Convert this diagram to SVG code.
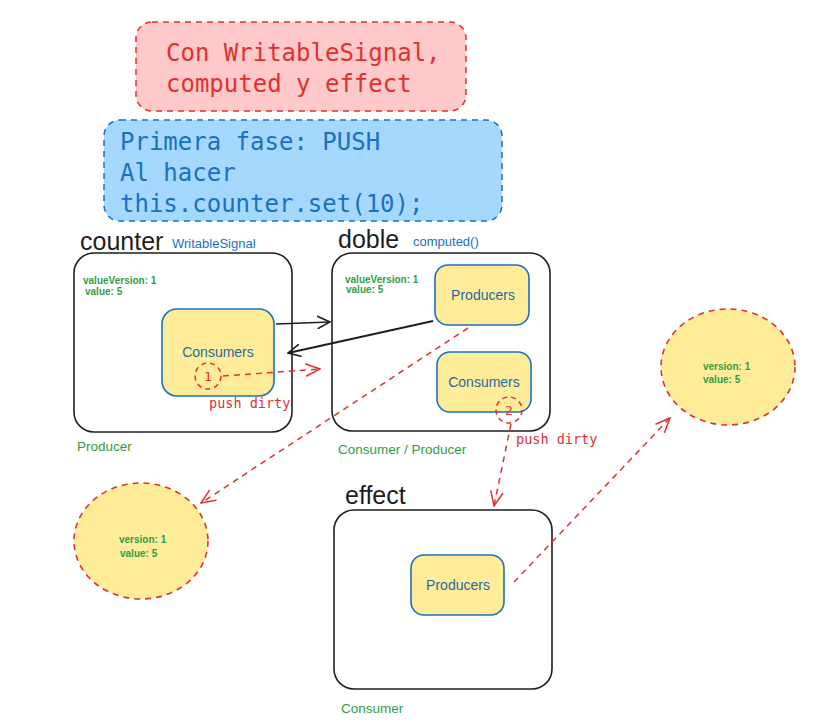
<svg xmlns="http://www.w3.org/2000/svg" width="813" height="727" viewBox="0 0 813 727">
<defs>
<marker id="ab" viewBox="0 0 14 14" refX="13" refY="7" markerWidth="14" markerHeight="14" markerUnits="userSpaceOnUse" orient="auto">
<path d="M1 1 L13 7 L1 13" fill="none" stroke="#1e1e1e" stroke-width="1.6" stroke-linecap="round"/>
</marker>
<marker id="ar" viewBox="0 0 16 16" refX="15" refY="8" markerWidth="16" markerHeight="16" markerUnits="userSpaceOnUse" orient="auto">
<path d="M1 2 L15 8 L1 14" fill="none" stroke="#e03131" stroke-width="1.5" stroke-linecap="round"/>
</marker>
</defs>
<style>
.big{font-family:"Liberation Sans",Arial,sans-serif;font-size:25px;fill:#1e1e1e}
.type{font-family:"Liberation Sans",Arial,sans-serif;font-size:13px;fill:#1971c2}
.green{font-family:"Liberation Sans",Arial,sans-serif;font-size:13.5px;fill:#2f9e44}
.small{font-family:"Liberation Sans",Arial,sans-serif;font-size:10px;font-weight:bold;fill:#2f9e44}
.mono{font-family:"DejaVu Sans Mono","Liberation Mono",monospace}
.outer{fill:#ffffff;stroke:#1e1e1e;stroke-width:1.6}
.inner{fill:#ffec99;stroke:#1971c2;stroke-width:1.6}
.itxt{font-family:"Liberation Sans",Arial,sans-serif;font-size:14px;fill:#1f6aa8;text-anchor:middle}
.dash{fill:none;stroke:#e03131;stroke-width:1.5;stroke-dasharray:6 5}
.ell{fill:#ffec99;stroke:#e03131;stroke-width:1.6;stroke-dasharray:6 5}
.push{font-size:13.5px;fill:#e03131}
</style>
<rect width="813" height="727" fill="#ffffff"/>

<g id="title">
<rect x="136" y="22" width="330" height="89" rx="16" fill="#ffc9c9" stroke="#e03131" stroke-width="1.5" stroke-dasharray="6 5"/>
<text class="mono" x="166" y="61" font-size="24" fill="#e03131">Con WritableSignal,</text>
<text class="mono" x="166" y="92" font-size="24" fill="#e03131">computed y effect</text>
</g>

<g id="phase">
<rect x="104" y="120" width="398" height="101" rx="16" fill="#a5d8ff" stroke="#1971c2" stroke-width="1.5" stroke-dasharray="6 5"/>
<text class="mono" x="120" y="150" font-size="24" fill="#1971c2">Primera fase: PUSH</text>
<text class="mono" x="120" y="181" font-size="24" fill="#1971c2">Al hacer</text>
<text class="mono" x="120" y="212" font-size="24" fill="#1971c2">this.counter.set(10);</text>
</g>

<g id="counter">
<text class="big" x="80" y="250">counter</text>
<text class="type" x="172" y="248">WritableSignal</text>
<rect class="outer" x="74" y="253" width="218" height="179" rx="20"/>
<text class="small" x="83" y="284">valueVersion: 1</text>
<text class="small" x="85" y="295">value: 5</text>
<rect class="inner" x="162" y="309" width="112" height="87" rx="15"/>
<text class="itxt" x="218" y="357">Consumers</text>
<circle cx="208" cy="376" r="13" fill="none" stroke="#e03131" stroke-width="1.5" stroke-dasharray="5 4"/>
<text class="mono" x="208" y="381" font-size="13" fill="#e03131" text-anchor="middle">1</text>
<text class="mono push" x="209" y="408">push dirty</text>
<text class="green" x="77" y="451">Producer</text>
</g>

<g id="doble">
<text class="big" x="338" y="248">doble</text>
<text class="type" x="413" y="246">computed()</text>
<rect class="outer" x="332" y="253" width="218" height="178" rx="20"/>
<text class="small" x="345" y="283">valueVersion: 1</text>
<text class="small" x="346" y="293">value: 5</text>
<rect class="inner" x="435" y="265" width="94" height="60" rx="13"/>
<text class="itxt" x="483" y="300">Producers</text>
<rect class="inner" x="437" y="352" width="94" height="60" rx="13"/>
<text class="itxt" x="484" y="387">Consumers</text>
<circle cx="509" cy="410" r="13" fill="none" stroke="#e03131" stroke-width="1.5" stroke-dasharray="5 4"/>
<text class="mono" x="509" y="415" font-size="13" fill="#e03131" text-anchor="middle">2</text>
<text class="mono push" x="516" y="444">push dirty</text>
<text class="green" x="338" y="454">Consumer / Producer</text>
</g>

<g id="effect">
<text class="big" x="345" y="504">effect</text>
<rect class="outer" x="334" y="510" width="218" height="179" rx="20"/>
<rect class="inner" x="411" y="555" width="93" height="60" rx="13"/>
<text class="itxt" x="458" y="590">Producers</text>
<text class="green" x="341" y="713">Consumer</text>
</g>

<g id="value-left">
<ellipse class="ell" cx="141" cy="541" rx="67" ry="58"/>
<text class="small" x="119" y="543">version: 1</text>
<text class="small" x="120" y="557">value: 5</text>
</g>

<g id="value-right">
<ellipse class="ell" cx="728" cy="367" rx="67" ry="58"/>
<text class="small" x="703" y="370">version: 1</text>
<text class="small" x="703" y="383">value: 5</text>
</g>

<g id="connectors">
<line x1="276" y1="324" x2="330" y2="322" stroke="#1e1e1e" stroke-width="1.6" marker-end="url(#ab)"/>
<line x1="433" y1="321" x2="288" y2="353" stroke="#1e1e1e" stroke-width="2" marker-end="url(#ab)"/>
<line class="dash" x1="223" y1="376" x2="320" y2="369" marker-end="url(#ar)"/>
<line class="dash" x1="468" y1="328" x2="201" y2="503" marker-end="url(#ar)"/>
<line class="dash" x1="511" y1="424" x2="494" y2="506" marker-end="url(#ar)"/>
<line class="dash" x1="514" y1="582" x2="670" y2="418" marker-end="url(#ar)"/>
</g>
</svg>
